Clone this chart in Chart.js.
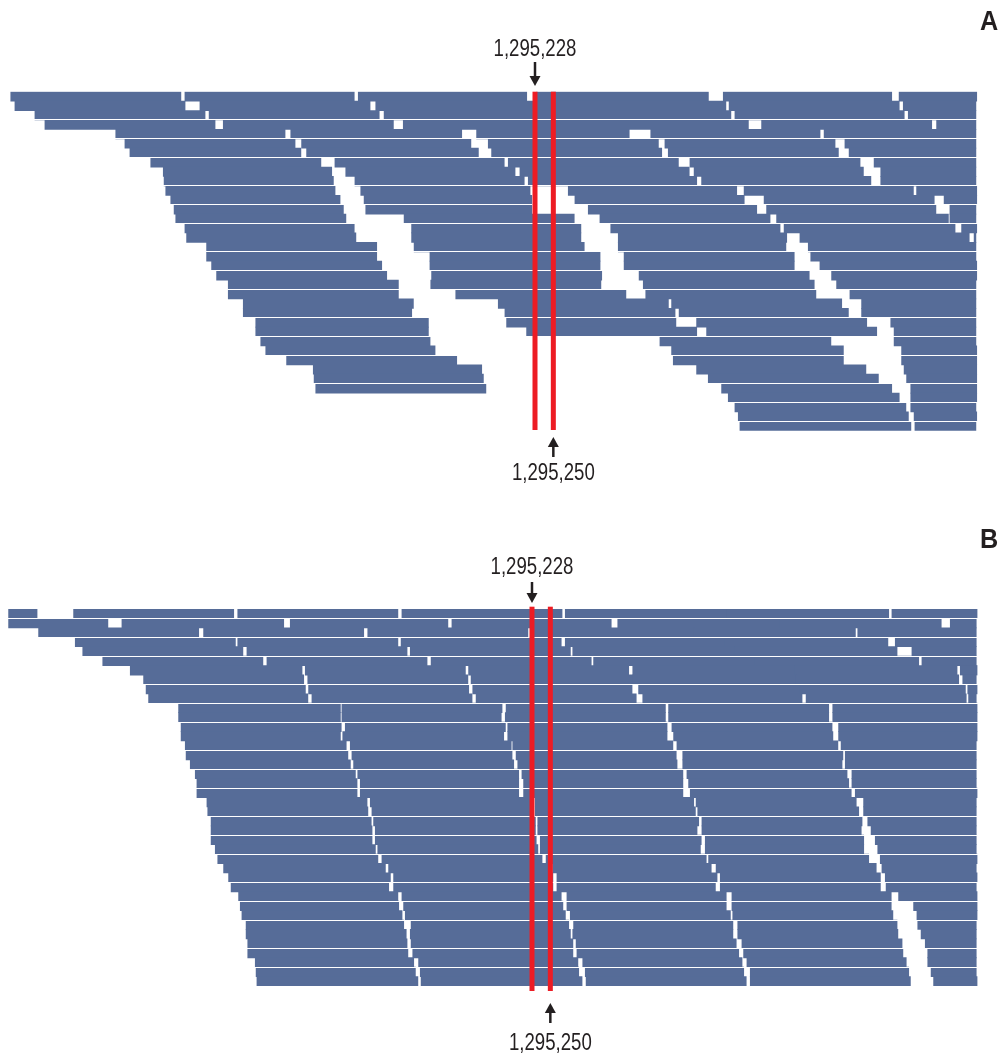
<!DOCTYPE html>
<html>
<head>
<meta charset="utf-8">
<script src="https://cdn.jsdelivr.net/npm/chart.js@4.4.1/dist/chart.umd.min.js"></script>
<style>
html,body{margin:0;padding:0;background:#ffffff;}
#wrap{position:relative;width:1001px;height:1055px;overflow:hidden;background:#ffffff;}
canvas{position:absolute;left:0;}
</style>
</head>
<body>
<div id="wrap">
<canvas id="chartA" width="1001" height="500" style="top:0px"></canvas>
<canvas id="chartB" width="1001" height="555" style="top:500px"></canvas>
</div>
<script>
// marked genomic sites
const markerPositions = [1295228, 1295250];
const markerLabels = ['1,295,228', '1,295,250'];
const panelLetters = ['A', 'B'];

// aligned reads, one list per pileup row, [start, end] in bp relative to 1,295,228
const readsA = [
[[-629,-425],[-420,-217],[-212,-10],[2,208],[226,428],[437,530]],
[[-624,-420],[-402,-198],[-191,20],[22,229],[233,437],[442,529]],
[[-600,-396],[-391,-187],[-181,21],[23,235],[240,443],[448,529]],
[[-588,-384],[-374,-170],[-158,21],[23,256],[272,476],[482,529]],
[[-503,-300],[-293,-88],[-70,113],[139,342],[347,529]],
[[-492,-288],[-280,-77],[-56,148],[156,360],[372,529]],
[[-486,-281],[-274,-68],[-52,152],[160,364],[377,529]],
[[-461,-257],[-240,-37],[-32,172],[186,390],[407,529]],
[[-446,-244],[-227,-24],[-18,185],[191,394],[415,529]],
[[-445,-242],[-216,-13],[-8,194],[200,403],[415,529]],
[[-443,-240],[-209,-6],[40,242],[251,454],[458,530]],
[[-437,-234],[-205,-4],[48,251],[275,479],[491,530]],
[[-433,-230],[-203,-4],[64,266],[278,481],[498,529]],
[[-431,-227],[-157,47],[78,282],[290,496],[498,529]],
[[-420,-217],[-148,55],[91,294],[299,504],[512,530]],
[[-418,-215],[-148,55],[100,302],[318,521],[527,529]],
[[-394,-190],[-145,59],[100,301],[328,529]],
[[-394,-190],[-126,78],[107,311],[331,529]],
[[-388,-184],[-126,78],[107,311],[342,530]],
[[-382,-178],[-124,80],[125,329],[356,530]],
[[-368,-164],[-125,79],[130,335],[362,529]],
[[-368,-164],[-95,109],[133,337],[378,529]],
[[-350,-146],[-44,160],[164,368],[392,529]],
[[-350,-148],[-36,168],[173,376],[392,529]],
[[-335,-128],[-34,169],[194,398],[427,529]],
[[-335,-128],[-10,194],[206,410],[431,529]],
[[-329,-126],[150,355],[431,529]],
[[-323,-120],[164,370],[440,530]],
[[-298,-94],[166,370],[440,530]],
[[-266,-64],[194,397],[443,530]],
[[-265,-62],[208,412],[446,530]],
[[-263,-59],[224,428],[451,530]],
[[232,437],[451,530]],
[[240,445],[451,529]],
[[244,448],[455,530]],
[[246,451],[456,529]]
];

const readsB = [
[[-628,-594],[-550,-358],[-353,-161],[-156,36],[40,234],[234,428],[432,534]],
[[-628,-509],[-492,-298],[-290,-101],[-96,95],[103,298],[298,491],[502,533]],
[[-592,-400],[-394,-202],[-197,-5],[1,194],[194,388],[391,533]],
[[-548,-356],[-353,-161],[-157,35],[40,232],[232,427],[436,533]],
[[-539,-347],[-342,-150],[-146,46],[49,244],[244,438],[456,533]],
[[-515,-323],[-318,-126],[-121,71],[74,268],[268,464],[468,533]],
[[-482,-276],[-272,-80],[-76,116],[121,316],[316,510],[514,534]],
[[-466,-274],[-269,-77],[-73,121],[121,317],[317,512],[517,533]],
[[-463,-272],[-268,-76],[-71,120],[128,322],[322,520],[523,534]],
[[-460,-269],[-264,-72],[-67,125],[133,324],[329,521],[524,533]],
[[-424,-230],[-228,-36],[-31,160],[164,356],[361,534]],
[[-424,-230],[-228,-37],[-32,160],[164,356],[361,534]],
[[-421,-229],[-224,-32],[-29,162],[168,360],[368,534]],
[[-421,-230],[-227,-34],[-29,162],[170,361],[368,534]],
[[-416,-223],[-218,-25],[-23,169],[174,367],[371,533]],
[[-415,-221],[-216,-24],[-19,173],[181,373],[376,533]],
[[-410,-218],[-214,-22],[-17,174],[181,372],[376,533]],
[[-404,-212],[-209,-16],[-12,181],[186,378],[384,533]],
[[-402,-210],[-206,-16],[-10,181],[188,380],[384,533]],
[[-402,-210],[-206,-16],[-10,181],[190,383],[388,534]],
[[-390,-198],[-194,-1],[4,194],[197,389],[398,533]],
[[-389,-197],[-192,0],[4,196],[199,392],[398,533]],
[[-385,-193],[-190,4],[7,200],[204,396],[403,533]],
[[-385,-192],[-188,4],[7,198],[204,395],[407,533]],
[[-385,-192],[-188,5],[10,203],[208,398],[412,533]],
[[-380,-188],[-185,7],[10,202],[208,398],[415,533]],
[[-377,-185],[-180,12],[17,209],[212,404],[418,534]],
[[-370,-176],[-172,20],[25,215],[221,413],[420,533]],
[[-364,-170],[-166,25],[30,222],[226,418],[424,534]],
[[-361,-172],[-166,25],[30,220],[226,418],[425,533]],
[[-352,-161],[-156,35],[42,233],[240,431],[440,534]],
[[-350,-160],[-154,37],[42,233],[240,431],[458,534]],
[[-348,-156],[-152,40],[46,238],[241,433],[462,534]],
[[-343,-154],[-145,44],[50,241],[247,438],[463,533]],
[[-343,-151],[-146,46],[49,241],[247,439],[467,533]],
[[-341,-150],[-145,49],[53,245],[252,444],[472,533]],
[[-341,-149],[-143,49],[54,248],[254,445],[475,533]],
[[-332,-142],[-136,55],[61,252],[258,449],[475,533]],
[[-331,-140],[-134,56],[64,254],[262,452],[479,533]],
[[-330,-137],[-133,60],[65,257],[262,454],[482,534]]
];

// visible window of each panel, bp relative to 1,295,228
const windowA = [-642, 559.2];
const windowB = [-638.4, 562.8];

const READ_COLOR = '#566C98';
const MARK_COLOR = '#ED1C24';
const TEXT_COLOR = '#231F20';
const FONT_FAMILY = "'Liberation Sans', Arial, 'DejaVu Sans', sans-serif";

function drawArrow(ctx, x, yFrom, yTip) {
  const dir = yTip > yFrom ? 1 : -1;
  const headLen = 10, halfW = 5.5;
  ctx.lineWidth = 2.5;
  ctx.beginPath();
  ctx.moveTo(x, yFrom);
  ctx.lineTo(x, yTip - dir * headLen * 0.7);
  ctx.stroke();
  ctx.beginPath();
  ctx.moveTo(x, yTip);
  ctx.lineTo(x - halfW, yTip - dir * headLen);
  ctx.lineTo(x + halfW, yTip - dir * headLen);
  ctx.closePath();
  ctx.fill();
}

// condensed text: draw with a horizontal squeeze
function drawText(ctx, text, x, y, font, sx) {
  ctx.save();
  ctx.font = font;
  ctx.textAlign = 'center';
  ctx.textBaseline = 'alphabetic';
  ctx.translate(x, y);
  ctx.scale(sx, 1);
  ctx.fillText(text, 0, 0);
  ctx.restore();
}

const decorPlugin = {
  id: 'decor',
  afterDatasetsDraw(chart, args, o) {
    const ctx = chart.ctx;
    const ca = chart.chartArea;
    const xs = chart.scales.x, ys = chart.scales.y;
    const n = ys.getLabels().length;
    ctx.save();
    // thin white separators between groups of rows
    ctx.fillStyle = '#ffffff';
    for (let k = 1; k < n; k++) {
      const p = o.phase;
      if (Math.floor(3 * (k + p) / 7) > Math.floor(3 * (k + p - 1) / 7)) {
        const yb = (ys.getPixelForValue(k - 1) + ys.getPixelForValue(k)) / 2;
        ctx.fillRect(ca.left, Math.round(yb - 0.5), ca.right - ca.left, 1);
      }
    }
    // red marker lines
    const px = markerPositions.map(v => xs.getPixelForValue(v - markerPositions[0]));
    ctx.fillStyle = MARK_COLOR;
    const top = ca.top - o.redTopExt, bot = ca.bottom + o.redBottomExt;
    px.forEach(x => ctx.fillRect(x - 2.5, top, 5, bot - top));
    // arrows and labels
    ctx.fillStyle = TEXT_COLOR;
    ctx.strokeStyle = TEXT_COLOR;
    drawArrow(ctx, px[0], o.topArrow[0], o.topArrow[1]);
    drawArrow(ctx, px[1], o.bottomArrow[0], o.bottomArrow[1]);
    drawText(ctx, markerLabels[0], px[0], o.topText, '23px ' + FONT_FAMILY, 0.81);
    drawText(ctx, markerLabels[1], px[1], o.bottomText, '23px ' + FONT_FAMILY, 0.81);
    drawText(ctx, o.letter, o.letterX, o.letterY, 'bold 28px ' + FONT_FAMILY, 0.9);
    ctx.restore();
  }
};

function makeChart(id, reads, win, pad, decor) {
  const labels = reads.map((_, i) => String(i));
  const data = [];
  reads.forEach((row, i) => row.forEach(r => data.push({ x: [r[0], r[1]], y: String(i) })));
  return new Chart(document.getElementById(id), {
    type: 'bar',
    data: {
      labels: labels,
      datasets: [{
        data: data,
        backgroundColor: READ_COLOR,
        borderWidth: 0,
        barPercentage: 1,
        categoryPercentage: 1,
        inflateAmount: 0.4
      }]
    },
    options: {
      indexAxis: 'y',
      responsive: false,
      animation: false,
      devicePixelRatio: 1,
      layout: { padding: pad },
      scales: {
        x: { type: 'linear', min: win[0], max: win[1], display: false },
        y: { type: 'category', display: false, offset: true }
      },
      plugins: {
        legend: { display: false },
        tooltip: { enabled: false },
        decor: decor
      }
    },
    plugins: [decorPlugin]
  });
}

makeChart('chartA', readsA, windowA,
  { top: 91.7, bottom: 69.3, left: 0, right: 0 },
  { phase: 0, redTopExt: 0, redBottomExt: -0.7, topText: 55.7, topArrow: [62, 86],
    bottomArrow: [457, 437], bottomText: 480, letter: panelLetters[0], letterX: 989, letterY: 30 });

makeChart('chartB', readsB, windowB,
  { top: 109, bottom: 69, left: 0, right: 0 },
  { phase: 2, redTopExt: 2.3, redBottomExt: 5, topText: 73.5, topArrow: [82, 103],
    bottomArrow: [523, 503], bottomText: 550, letter: panelLetters[1], letterX: 989, letterY: 48 });
</script>
</body>
</html>
